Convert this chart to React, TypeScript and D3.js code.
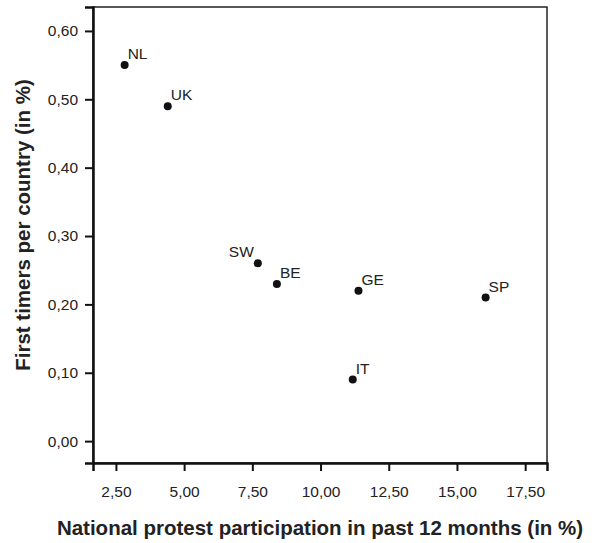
import { useEffect, useRef } from 'react';
import { select, scaleLinear, axisBottom, axisLeft, format } from 'd3';

const countries = ['NL', 'UK', 'SW', 'BE', 'GE', 'SP', 'IT'];
const participation = [2.82, 4.4, 7.7, 8.4, 11.39, 16.05, 11.18];
const firstTimers = [0.55, 0.49, 0.26, 0.23, 0.22, 0.21, 0.09];
const xTicks = [2.5, 5, 7.5, 10, 12.5, 15, 17.5];
const yTicks = [0, 0.1, 0.2, 0.3, 0.4, 0.5, 0.6];

const FONT = '"Liberation Sans", Arial, sans-serif';

const comma = (v) => format('.2f')(v).replace('.', ',');

const App = () => {
  const svgRef = useRef(null);
  const width = 612;
  const height = 543;
  const margin = { left: 93, top: 7, right: 65, bottom: 80 };

  useEffect(() => {
    const svg = select(svgRef.current);
    svg.selectAll('*').remove();

    const x = scaleLinear().domain([1.66, 18.3]).range([margin.left, width - margin.right]);
    const y = scaleLinear().domain([-0.032, 0.635]).range([height - margin.bottom, margin.top]);

    // plot frame
    svg
      .append('rect')
      .attr('x', margin.left)
      .attr('y', margin.top)
      .attr('width', width - margin.right - margin.left)
      .attr('height', height - margin.bottom - margin.top)
      .attr('fill', 'none')
      .attr('stroke', '#222')
      .attr('stroke-width', 1.5);

    const xAxis = svg
      .append('g')
      .attr('transform', `translate(0,${height - margin.bottom})`)
      .call(axisBottom(x).tickValues(xTicks).tickSize(8).tickPadding(15).tickFormat(comma));
    xAxis.select('.domain').attr('stroke', '#111').attr('stroke-width', 2.5);

    const yAxis = svg
      .append('g')
      .attr('transform', `translate(${margin.left},0)`)
      .call(axisLeft(y).tickValues(yTicks).tickSize(8).tickPadding(7).tickFormat(comma));
    yAxis.select('.domain').attr('stroke', '#111').attr('stroke-width', 2.5);

    [xAxis, yAxis].forEach((g) => {
      g.selectAll('line').attr('stroke', '#111').attr('stroke-width', 2);
      g.selectAll('text')
        .attr('fill', '#222')
        .attr('font-family', FONT)
        .attr('font-size', 15.5);
    });

    const pts = svg.append('g');
    countries.forEach((c, i) => {
      const cx = x(participation[i]);
      const cy = y(firstTimers[i]);
      pts.append('circle').attr('cx', cx).attr('cy', cy).attr('r', 4).attr('fill', '#111');
      const left = c === 'SW';
      pts
        .append('text')
        .attr('x', left ? cx - 4 : cx + 3)
        .attr('y', cy - 6)
        .attr('text-anchor', left ? 'end' : 'start')
        .attr('font-family', FONT)
        .attr('font-size', 15.5)
        .attr('fill', '#222')
        .text(c);
    });

    svg
      .append('text')
      .attr('x', 320)
      .attr('y', 535)
      .attr('text-anchor', 'middle')
      .attr('font-family', FONT)
      .attr('font-weight', 'bold')
      .attr('font-size', 20.5)
      .attr('fill', '#222')
      .text('National protest participation in past 12 months (in %)');

    svg
      .append('text')
      .attr('transform', 'translate(30,225) rotate(-90)')
      .attr('text-anchor', 'middle')
      .attr('font-family', FONT)
      .attr('font-weight', 'bold')
      .attr('font-size', 20.5)
      .attr('fill', '#222')
      .text('First timers per country (in %)');
  }, []);

  return (
    <svg
      ref={svgRef}
      width={width}
      height={height}
      style={{ position: 'absolute', left: 0, top: 0, background: '#fff' }}
    />
  );
};

export default App;
